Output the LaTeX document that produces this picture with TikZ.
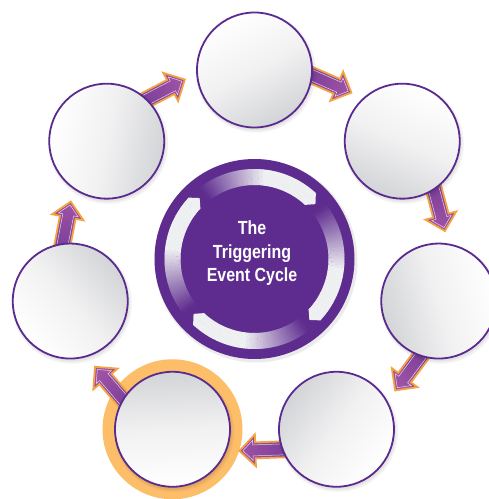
\documentclass[tikz,border=0pt]{standalone}
\usepackage{fontspec}
\newfontfamily\condfont[FakeStretch=0.84]{Liberation Sans}
\definecolor{cpurple}{HTML}{5E2C8F}
\definecolor{bpurple}{HTML}{5B2A8E}
\definecolor{adark}{HTML}{703A96}
\definecolor{alight}{HTML}{9E52A3}
\definecolor{aorange}{HTML}{F4A340}
\definecolor{ringor}{HTML}{FDBE6A}
\definecolor{ringw}{HTML}{EFF0F2}
\definecolor{cwhite}{HTML}{FFFFFF}
\definecolor{cmid}{HTML}{F1F1F2}
\definecolor{cgrey}{HTML}{D3D4D7}
\tikzset{
  stepcircle/.style={circle, minimum size=115, inner sep=0, draw=bpurple, line width=1.8},
  arrowline/.style={aorange, line width=1.8, line join=miter},
  arrowinner/.style={white, line width=0.5, opacity=0.75},
}
\begin{document}
\begin{tikzpicture}[x=1pt,y=1pt]
\useasboundingbox (0,0) rectangle (489,499);
\coordinate (O) at (254.5,240);
% highlight ring
\pgfmathsetmacro\hx{254.5+189*cos(90-4*360/7)}
\pgfmathsetmacro\hy{240+189*sin(90-4*360/7)}
\node[circle, fill=ringor, minimum size=140, inner sep=0] (hl) at (\hx,\hy) {};
% block arrows
\foreach \k in {0,...,6}{
  \pgfmathsetmacro\ta{90-(\k+0.5)*360/7-4.5}
  \pgfmathsetmacro\tx{254.5+192.5*cos(\ta)}
  \pgfmathsetmacro\ty{240+192.5*sin(\ta)}
  \pgfmathsetmacro\dir{\ta-83.5}
  \pgfmathsetmacro\sha{\dir-90}
  \begin{scope}[shift={(\tx,\ty)}, rotate=\dir]
    \shade[bottom color=adark, top color=alight, shading angle=\sha] (0,0) -- (-16,16) -- (-16,8) -- (-62,8) -- (-62,-8) -- (-16,-8) -- (-16,-16) -- cycle;
    \draw[arrowinner] (-62,5.5) -- (-13.5,5.5) -- (-13.5,10) -- (-3.5,0) -- (-13.5,-10) -- (-13.5,-5.5) -- (-62,-5.5);
    \draw[arrowline] (0,0) -- (-16,16) -- (-16,8) -- (-62,8) -- (-62,-8) -- (-16,-8) -- (-16,-16) -- cycle;
  \end{scope}
}
% step circles
\foreach \k in {0,...,6}{
  \pgfmathsetmacro\ang{90-\k*360/7}
  \pgfmathsetmacro\cx{254.5+189*cos(\ang)}
  \pgfmathsetmacro\cy{240+189*sin(\ang)}
  \pgfmathsetmacro\sa{\ang+270+28}
  \fill[black, opacity=0.05] (\cx+1.5,\cy-2.5) circle (60);
  \fill[black, opacity=0.06] (\cx+1,\cy-2) circle (58.5);
  \node[stepcircle, top color=cwhite, bottom color=cgrey, middle color=cmid, shading angle=\sa] (n\k) at (\cx,\cy) {};
}
% hub
\fill[black, opacity=0.08] (256,238) circle (101.5);
\node[circle, fill=cpurple, minimum size=200, inner sep=0] (hub) at (O) {};
\foreach \h in {45,135,225,315}{
  \fill[ringw] ({254.5+74*cos(\h+2)},{240+74*sin(\h+2)}) -- ({254.5+82*cos(\h-3)},{240+82*sin(\h-3)}) -- ({254.5+90*cos(\h+2)},{240+90*sin(\h+2)}) -- ({254.5+90*cos(\h+2.5)},{240+90*sin(\h+2.5)}) -- ({254.5+74*cos(\h+2.5)},{240+74*sin(\h+2.5)}) -- cycle;
  \foreach \i in {2,...,81}{
    \pgfmathtruncatemacro\w{100*(1-max(0,min(1,(\i-38)/44)))}
    \fill[ringw!\w!cpurple] ({254.5+74*cos(\h+\i)},{240+74*sin(\h+\i)}) -- ({254.5+90*cos(\h+\i)},{240+90*sin(\h+\i)}) -- ({254.5+90*cos(\h+\i+1.3)},{240+90*sin(\h+\i+1.3)}) -- ({254.5+74*cos(\h+\i+1.3)},{240+74*sin(\h+\i+1.3)}) -- cycle;
  }
}
\node[text=white, align=center, inner sep=0, font=\condfont\bfseries\fontsize{19}{23.5}\selectfont] (title) at (252,245.5) {The\\Triggering\\Event Cycle};
\end{tikzpicture}
\end{document}
